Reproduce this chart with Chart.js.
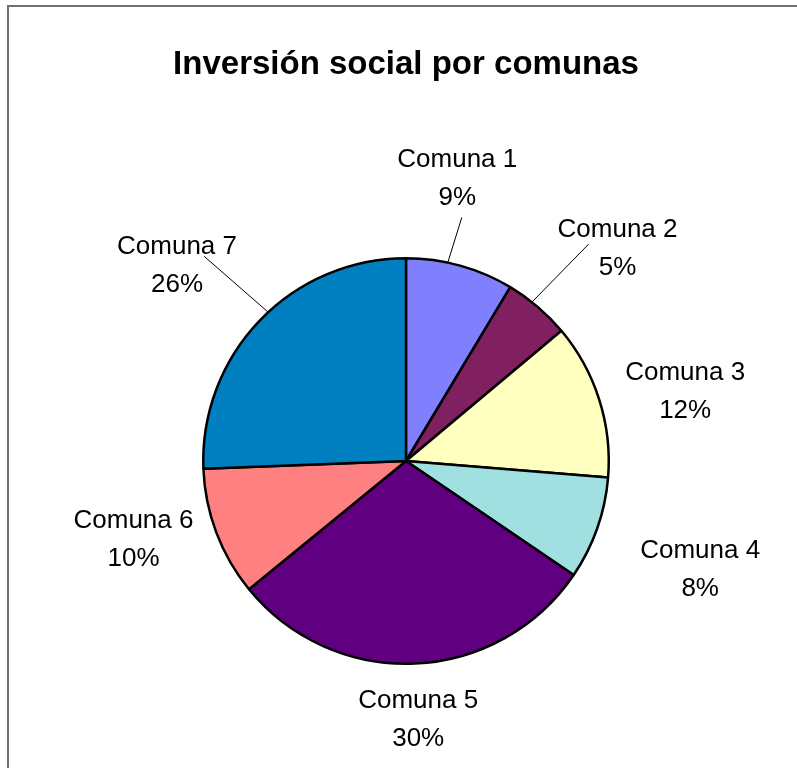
<!DOCTYPE html>
<html>
<head>
<meta charset="utf-8">
<script src="https://cdn.jsdelivr.net/npm/chart.js@4/dist/chart.umd.min.js"></script>
<style>
  html, body { margin: 0; padding: 0; background: #fff; overflow: hidden; }
  #wrap { position: relative; width: 797px; height: 768px; overflow: hidden; }
  #frame { position: absolute; left: 7px; top: 5px; width: 1000px; height: 1000px;
           border-left: 2px solid #707070; border-top: 2px solid #707070; box-sizing: border-box; }
  canvas { position: absolute; left: 0; top: 0; }
</style>
</head>
<body>
<div id="wrap">
  <div id="frame"></div>
  <canvas id="c" width="797" height="768"></canvas>
</div>
<script>
// ---- data ----
const chartTitle = 'Inversión social por comunas';
const categories = ['Comuna 1', 'Comuna 2', 'Comuna 3', 'Comuna 4', 'Comuna 5', 'Comuna 6', 'Comuna 7'];
const values = [8.6, 5.3, 12.4, 8.2, 29.6, 10.3, 25.6];
const sliceColors = ['#8080FF', '#802060', '#FFFFC0', '#A0E0E0', '#600080', '#FF8080', '#0080C0'];

// label placement: [angle from top, clockwise (deg), distance as multiple of the pie radius]
const labelPlacement = [[10.3, 1.414], [44.9, 1.478], [76, 1.419], [110.3, 1.547], [177.3, 1.276], [253.9, 1.399], [310.4, 1.483]];
// leader lines: [start angle, start radius factor, end angle on the rim] or null
const leaderLines = [[12.9, 1.232, 11.9], [40.1, 1.398, 38.4], null, null, null, null, [315.4, 1.418, 317.2]];

const FONT = "'Liberation Sans', Arial, Helvetica, sans-serif";

const pieLabels = {
  id: 'pieLabels',
  afterDatasetsDraw(chart) {
    const ctx = chart.ctx;
    const meta = chart.getDatasetMeta(0);
    const data = chart.data.datasets[0].data;
    const total = data.reduce((a, b) => a + b, 0);
    ctx.save();
    meta.data.forEach((arc, i) => {
      const cx = arc.x, cy = arc.y, r = arc.outerRadius;
      const pt = (deg, f) => {
        const a = deg * Math.PI / 180;
        return [cx + r * f * Math.sin(a), cy - r * f * Math.cos(a)];
      };
      const ll = leaderLines[i];
      if (ll) {
        const p1 = pt(ll[0], ll[1]);
        const p2 = pt(ll[2], 1.0);
        ctx.beginPath();
        ctx.strokeStyle = '#000';
        ctx.lineWidth = 1;
        ctx.moveTo(p1[0], p1[1]);
        ctx.lineTo(p2[0], p2[1]);
        ctx.stroke();
      }
      const lp = labelPlacement[i];
      const p = pt(lp[0], lp[1]);
      ctx.fillStyle = '#000';
      ctx.font = '26px ' + FONT;
      ctx.textAlign = 'center';
      ctx.textBaseline = 'middle';
      const pct = Math.round(data[i] / total * 100) + '%';
      ctx.fillText(chart.data.labels[i], p[0], p[1] - 19);
      ctx.fillText(pct, p[0], p[1] + 19);
    });
    ctx.restore();
  }
};

new Chart(document.getElementById('c'), {
  type: 'pie',
  data: {
    labels: categories,
    datasets: [{
      data: values,
      backgroundColor: sliceColors,
      borderColor: '#000',
      borderWidth: 2.5
    }]
  },
  options: {
    responsive: false,
    animation: false,
    layout: { padding: { top: 45.5, bottom: 103, left: 15, right: 0 } },
    plugins: {
      legend: { display: false },
      tooltip: { enabled: false },
      title: {
        display: true,
        text: chartTitle,
        color: '#000',
        font: { family: FONT, size: 33, weight: 'bold' },
        padding: { top: 0, bottom: 171.9 }
      }
    }
  },
  plugins: [pieLabels]
});
</script>
</body>
</html>
